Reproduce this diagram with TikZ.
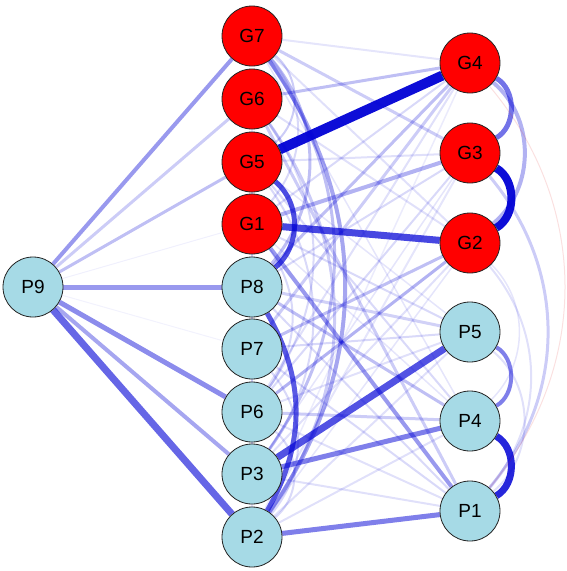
\documentclass[tikz,border=0pt]{standalone}
\usepackage{fontspec}
\setmainfont{Liberation Sans}
\usepackage{xcolor}
\usepackage{tikz}
\usetikzlibrary{backgrounds}
\definecolor{posblue}{HTML}{0000D5}
\definecolor{negred}{HTML}{E03030}
\definecolor{ballred}{HTML}{FF0000}
\definecolor{ballblue}{HTML}{A6DAE6}
\definecolor{rim}{HTML}{222222}
\tikzset{
  ball/.style={circle,draw=rim,line width=0.8pt,minimum size=60pt,inner sep=0pt,font=\fontsize{19}{22}\selectfont,text=black},
  gnode/.style={ball,fill=ballred},
  pnode/.style={ball,fill=ballblue},
  wedge/.style 2 args={draw=posblue,line width=#1pt,draw opacity=#2},
  nedge/.style 2 args={draw=negred,line width=#1pt,draw opacity=#2},
}

\begin{document}
\begin{tikzpicture}[x=1pt,y=-1pt]
    \useasboundingbox (0,0) rectangle (566,571);
    % outer node
    \node[pnode] (P9) at (33,287) {P9};
    % middle column
    \node[gnode] (G7) at (252,36) {G7};
    \node[gnode] (G6) at (252,99) {G6};
    \node[gnode] (G5) at (252,162) {G5};
    \node[gnode] (G1) at (252,224) {G1};
    \node[pnode] (P8) at (252,287) {P8};
    \node[pnode] (P7) at (252,349) {P7};
    \node[pnode] (P6) at (252,412) {P6};
    \node[pnode] (P3) at (252,474) {P3};
    \node[pnode] (P2) at (252,537) {P2};
    % right column
    \node[gnode] (G4) at (470,63) {G4};
    \node[gnode] (G3) at (470,153) {G3};
    \node[gnode] (G2) at (470,243) {G2};
    \node[pnode] (P5) at (470,332) {P5};
    \node[pnode] (P4) at (470,421) {P4};
    \node[pnode] (P1) at (470,511) {P1};

    \begin{scope}[on background layer]
    % fan out of P9
    \draw[wedge={4}{.4}] (P9) -- (G7);
    \draw[wedge={3}{.2}] (P9) -- (G6);
    \draw[wedge={3}{.25}] (P9) -- (G5);
    \draw[wedge={1}{.06}] (P9) -- (G1);
    \draw[wedge={5}{.4}] (P9) -- (P8);
    \draw[wedge={1}{.05}] (P9) -- (P7);
    \draw[wedge={5}{.45}] (P9) -- (P6);
    \draw[wedge={4}{.35}] (P9) -- (P3);
    \draw[wedge={7}{.6}] (P9) -- (P2);

    % middle to right, strong ones
    \draw[wedge={10}{.95}] (G5) -- (G4);
    \draw[wedge={7}{.72}] (G1) -- (G2);
    \draw[wedge={7}{.68}] (P3) -- (P5);
    \draw[wedge={5}{.5}] (P3) -- (P4);
    \draw[wedge={5}{.5}] (P2) -- (P1);
    \draw[wedge={4}{.4}] (G1) -- (P1);
    \draw[wedge={4}{.3}] (G1) -- (G3);
    \draw[wedge={3}{.3}] (G2) -- (P6);
    \draw[wedge={3}{.25}] (G2) -- (P7);
    \draw[wedge={3}{.25}] (G6) -- (G4);
    \draw[wedge={3}{.25}] (P8) -- (P4);
    \draw[wedge={3}{.25}] (G4) -- (P8);

    % middle to right, faint ones
    \foreach \a/\b/\w/\o in {G7/G4/2/.1, G7/G3/3/.2, G5/G3/2/.12, G4/P7/3/.2,
        G4/G1/2/.15, G3/P6/2/.15, G3/P8/2/.15, G7/G2/2/.12, G6/G2/2/.12,
        G6/P1/3/.2, G5/P4/2/.15, P7/P1/2/.15, P8/P1/2/.15, P6/P1/2/.12,
        P3/P1/2/.12, P2/P4/2/.12, P2/P5/2/.12, P7/P5/2/.15, P6/P5/2/.12,
        P6/P4/3/.2, P8/P5/3/.18, G2/P3/2/.12, G3/P2/2/.1, G4/P6/2/.12,
        G2/P2/1.5/.1, G1/P5/2/.15, G5/P5/1.5/.1, G6/P3/1.5/.1, G7/P4/1.5/.1,
        G5/P2/1.5/.1, G1/P4/1.5/.1, G3/P3/1.5/.1, G4/P2/1.5/.08}
      \draw[wedge={\w}{\o}] (\a) -- (\b);

    % arcs inside the middle column
    \draw[wedge={5}{.7}] (G5) to[bend left=50] (P8);
    \draw[wedge={5}{.65}] (P8) to[bend left=30] (P2);
    \draw[wedge={4}{.35}] (G7) to[bend left=35] (P2);
    \draw[wedge={3}{.25}] (G7) to[bend left=35] (P3);
    \draw[wedge={3}{.25}] (G7) to[bend left=40] (P8);
    \draw[wedge={2}{.2}] (G7) to[bend left=50] (G5);
    \draw[wedge={2}{.15}] (G7) to[bend left=40] (G1);
    \draw[wedge={3}{.2}] (G6) to[bend left=35] (P2);
    \draw[wedge={2}{.15}] (G6) to[bend left=35] (P6);
    \draw[wedge={2}{.15}] (G5) to[bend left=35] (P3);
    \draw[wedge={2}{.15}] (G1) to[bend left=35] (P6);
    \draw[wedge={2}{.15}] (P7) to[bend left=40] (P2);
    \draw[wedge={2}{.15}] (P6) to[bend left=50] (P2);

    % arcs inside the right column
    \draw[wedge={5}{.55}] (G4) to[bend left=60] (G3);
    \draw[wedge={8}{.95}] (G3) to[bend left=60] (G2);
    \draw[wedge={4}{.3}] (G4) to[bend left=50] (G2);
    \draw[wedge={4}{.5}] (P5) to[bend left=60] (P4);
    \draw[wedge={7}{.85}] (P4) to[bend left=60] (P1);
    \draw[wedge={3}{.2}] (G3) to[bend left=40] (P1);
    \draw[wedge={2}{.12}] (G2) to[bend left=40] (P1);
    \draw[wedge={1.5}{.1}] (G2) to[bend left=45] (P4);
    \draw[wedge={2}{.12}] (P5) to[bend left=50] (P1);
    \draw[nedge={1}{.15}] (G4) to[bend left=40] (P1);
    \end{scope}
  \end{tikzpicture}
\end{document}
